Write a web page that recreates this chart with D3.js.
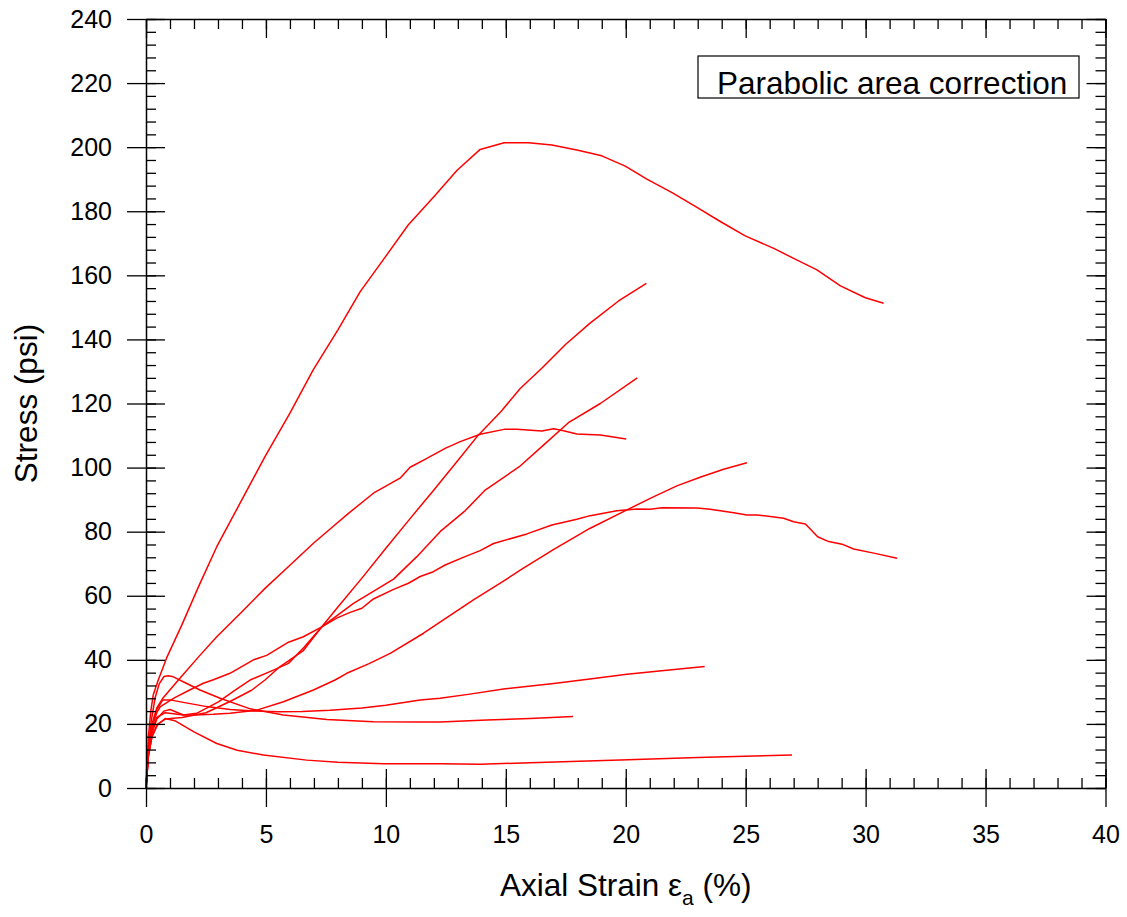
<!DOCTYPE html>
<html>
<head>
<meta charset="utf-8">
<script src="https://cdn.jsdelivr.net/npm/d3@7"></script>
<style>
  body { margin: 0; background: #fff; }
  svg { display: block; font-family: "Liberation Sans", Arial, sans-serif; }
</style>
</head>
<body>
<script>

// axial strain (%) , stress (psi) pairs, one array per test
const testA = [[0,0],[0.1,16],[0.2,24],[0.3,29],[0.5,33.5],[0.86,40.6],[1.5,51],[2.2,63],[2.95,75.3],[4,90],[4.96,103.4],[6,117],[6.97,130.5],[8,143],[8.93,154.9],[10,166],[10.93,175.7],[12,184.5],[12.96,192.7],[13.93,199.3],[14.93,201.4],[15.95,201.4],[16.92,200.7],[17.96,199.1],[19.0,197.3],[19.98,194.1],[20.88,190],[21.93,185.8],[22.97,181.2],[23.94,176.8],[24.98,172.3],[26.17,168.4],[27.0,165.3],[27.97,161.7],[28.95,156.7],[29.99,153],[30.75,151.3]]
const testB = [[0,0],[0.1,10],[0.25,16],[0.5,20],[0.8,21.5],[1.5,22],[2.5,23.5],[3.5,27],[4.4,30.5],[4.96,33.7],[5.59,37.9],[6.56,42.9],[7.33,50.3],[8,56.5],[9,65.5],[10,74.8],[11,84],[12,93],[13,102.2],[13.86,110.2],[14.8,117.5],[15.6,124.7],[16.5,131],[17.5,138.5],[18.5,145],[19.7,152],[20.86,157.5]]
const testC = [[0,0],[0.1,11],[0.25,18],[0.45,22],[0.8,23.5],[1.56,22.8],[2.11,23.3],[3.02,26.9],[3.7,30.5],[4.34,33.7],[5.31,36.8],[5.94,38.9],[6.6,44],[7.33,50.3],[8.65,57.6],[10.32,65.2],[11.29,72.2],[12.26,80],[13.3,86.5],[14.14,93],[15.55,100.2],[16.57,107],[17.61,114],[18.94,120],[20.48,128]]
const testE = [[0,0],[0.1,12],[0.25,20],[0.45,25],[0.7,28],[1.35,33.7],[2.2,41],[2.95,47.2],[4,55],[4.96,62.3],[6,69.5],[6.98,76.4],[7.7,81],[8.44,85.7],[9.48,92],[10.59,96.7],[11.01,100.1],[11.71,102.9],[12.47,106],[13.1,108.1],[13.93,110.4],[14.97,112],[15.46,112],[16.5,111.4],[16.99,112.1],[17.41,111.5],[17.96,110.5],[18.94,110.2],[20.02,108.9]]
const testF = [[0,0],[0.1,10],[0.25,17],[0.45,21.5],[0.75,24],[1.0,24.5],[1.56,22.8],[2,22.8],[2.8,23],[3.5,23.3],[4.62,24.3],[5.73,26.9],[6.98,30.6],[7.88,33.7],[8.37,35.8],[9.3,38.8],[10.18,42],[11.57,48.3],[12.6,53.5],[13.65,58.7],[14.97,64.9],[15.6,68],[17,74.5],[18.5,81],[20.05,86.8],[21.02,90.4],[22.13,94.3],[23.1,97],[24.08,99.5],[25.05,101.5]]
const testG = [[0,0],[0.1,12],[0.25,19],[0.45,23.5],[0.6,25.4],[1.2,28.2],[1.8,30.5],[2.39,32.7],[2.81,33.8],[3.5,35.8],[4.48,40],[5.03,41.4],[5.94,45.5],[6.56,47.2],[7.33,50.3],[7.95,53],[8.51,54.8],[9.0,56.1],[9.48,59],[10.32,62],[10.94,63.9],[11.43,66],[11.98,67.5],[12.47,69.6],[13.3,72.2],[13.93,74.1],[14.49,76.3],[15.88,79.3],[16.92,82.1],[17.96,83.9],[18.52,85],[19.63,86.5],[20.47,87.1],[21.02,87],[21.51,87.5],[22.97,87.4],[23.52,87],[24.5,85.9],[25.05,85.2],[25.47,85.2],[26.03,84.7],[26.58,84.2],[27.0,83.1],[27.49,82.4],[28.0,78.4],[28.46,76.9],[29.02,76.1],[29.5,74.6],[30.34,73.3],[31.31,71.7]]
const testH = [[0,0],[0.1,11],[0.25,19],[0.45,24.5],[0.7,27.5],[1.0,27.5],[1.5,26.8],[2.53,25.4],[3.5,24.5],[4.48,24],[5.5,23.8],[6.5,23.9],[7.67,24.3],[9,25],[10,25.8],[11.43,27.5],[12.26,28],[13.5,29.3],[14.9,30.9],[17,32.6],[18.5,34],[20.05,35.5],[21.5,36.6],[23.29,37.9]]
const testI = [[0,0],[0.1,12],[0.2,20],[0.375,28],[0.55,32.5],[0.75,34.8],[0.93,35],[1.14,34.7],[1.7,32.6],[2.25,30.6],[3.09,28],[4.34,24.7],[5.73,22.8],[7.54,21.4],[9.48,20.7],[11.43,20.6],[12.26,20.6],[14.21,21.2],[16,21.7],[17.8,22.3]]
const testJ = [[0,0],[0.1,10],[0.25,16],[0.45,19.5],[0.8,21.7],[1.2,21],[2,17.5],[2.95,13.9],[3.8,11.8],[4.89,10.3],[6.7,8.7],[8,8],[9.9,7.6],[12.26,7.6],[13.93,7.4],[16,7.9],[19.77,8.7],[23,9.5],[26.93,10.3]]

const tests = [testA, testB, testC, testE, testF, testG, testH, testI, testJ]

const xMajor = d3.range(0, 41, 5)
const xMinor = d3.range(0, 41, 1)
const yMajor = d3.range(0, 241, 20)
const yMinor = d3.range(0, 241, 4)

const xTitle = 'Axial Strain ε'
const xTitleSub = 'a'
const xTitleTail = ' (%)'
const yTitle = 'Stress (psi)'
const legendText = 'Parabolic area correction'

const W = 1127, H = 917
const pLeft = 146, pRight = 1105.5, pTop = 19, pBottom = 788

const x = d3.scaleLinear().domain([0, 40]).range([pLeft, pRight])
const y = d3.scaleLinear().domain([0, 240]).range([pBottom, pTop])

const svg = d3.select('body')
    .append('svg')
    .attr('width', W)
    .attr('height', H)

svg.append('rect').attr('width', W).attr('height', H).attr('fill', '#fff')

// curves
const line = d3.line().x(d => x(d[0])).y(d => y(d[1]))

svg.append('g')
    .selectAll('path')
    .data(tests)
    .join('path')
    .attr('d', line)
    .attr('fill', 'none')
    .attr('stroke', '#ff0000')
    .attr('stroke-width', 1.5)
    .attr('stroke-linejoin', 'round')

// axes: outward major ticks with labels, plus inward major / minor ticks on every side
function styleAxis(g, keepDomain) {
    g.selectAll('line').attr('stroke', '#000').attr('stroke-width', 1.3)
    g.selectAll('text').attr('fill', '#000').style('font-size', '25px')
    if (!keepDomain) g.select('.domain').remove()
    else g.select('.domain').attr('stroke', '#000').attr('stroke-width', 1.5)
}

svg.append('g')
    .attr('transform', `translate(0,${pBottom})`)
    .call(d3.axisBottom(x).tickValues(xMajor).tickSizeInner(19).tickSizeOuter(0).tickPadding(18).tickFormat(d3.format('d')))
    .call(g => styleAxis(g, true))
svg.append('g')
    .attr('transform', `translate(0,${pBottom})`)
    .call(d3.axisBottom(x).tickValues(xMajor).tickSize(-19).tickFormat(''))
    .call(g => styleAxis(g, false))
svg.append('g')
    .attr('transform', `translate(0,${pBottom})`)
    .call(d3.axisBottom(x).tickValues(xMinor).tickSize(-10).tickFormat(''))
    .call(g => styleAxis(g, false))

svg.append('g')
    .attr('transform', `translate(0,${pTop})`)
    .call(d3.axisTop(x).tickValues(xMajor).tickSize(-19).tickSizeOuter(0).tickFormat(''))
    .call(g => styleAxis(g, true))
svg.append('g')
    .attr('transform', `translate(0,${pTop})`)
    .call(d3.axisTop(x).tickValues(xMinor).tickSize(-10).tickFormat(''))
    .call(g => styleAxis(g, false))

svg.append('g')
    .attr('transform', `translate(${pLeft},0)`)
    .call(d3.axisLeft(y).tickValues(yMajor).tickSizeInner(19).tickSizeOuter(0).tickPadding(15).tickFormat(d3.format('d')))
    .call(g => styleAxis(g, true))
svg.append('g')
    .attr('transform', `translate(${pLeft},0)`)
    .call(d3.axisLeft(y).tickValues(yMajor).tickSize(-19).tickFormat(''))
    .call(g => styleAxis(g, false))
svg.append('g')
    .attr('transform', `translate(${pLeft},0)`)
    .call(d3.axisLeft(y).tickValues(yMinor).tickSize(-10).tickFormat(''))
    .call(g => styleAxis(g, false))

svg.append('g')
    .attr('transform', `translate(${pRight},0)`)
    .call(d3.axisRight(y).tickValues(yMajor).tickSize(-19).tickSizeOuter(0).tickFormat(''))
    .call(g => styleAxis(g, true))
svg.append('g')
    .attr('transform', `translate(${pRight},0)`)
    .call(d3.axisRight(y).tickValues(yMinor).tickSize(-10).tickFormat(''))
    .call(g => styleAxis(g, false))

// titles
const xt = svg.append('text')
    .attr('x', (pLeft + pRight) / 2)
    .attr('y', 896)
    .attr('text-anchor', 'middle')
    .style('font-size', '31.5px')
xt.append('tspan').text(xTitle)
xt.append('tspan').attr('dy', 9).style('font-size', '21px').text(xTitleSub)
xt.append('tspan').attr('dy', -9).text(xTitleTail)

svg.append('text')
    .attr('transform', `translate(37,${(pTop + pBottom) / 2}) rotate(-90)`)
    .attr('text-anchor', 'middle')
    .style('font-size', '31.5px')
    .text(yTitle)

// legend box
svg.append('rect')
    .attr('x', 698)
    .attr('y', 56)
    .attr('width', 381)
    .attr('height', 42)
    .attr('fill', '#fff')
    .attr('stroke', '#000')
    .attr('stroke-width', 1.2)

svg.append('text')
    .attr('x', 717)
    .attr('y', 94)
    .style('font-size', '31.5px')
    .text(legendText)

</script>
</body>
</html>
